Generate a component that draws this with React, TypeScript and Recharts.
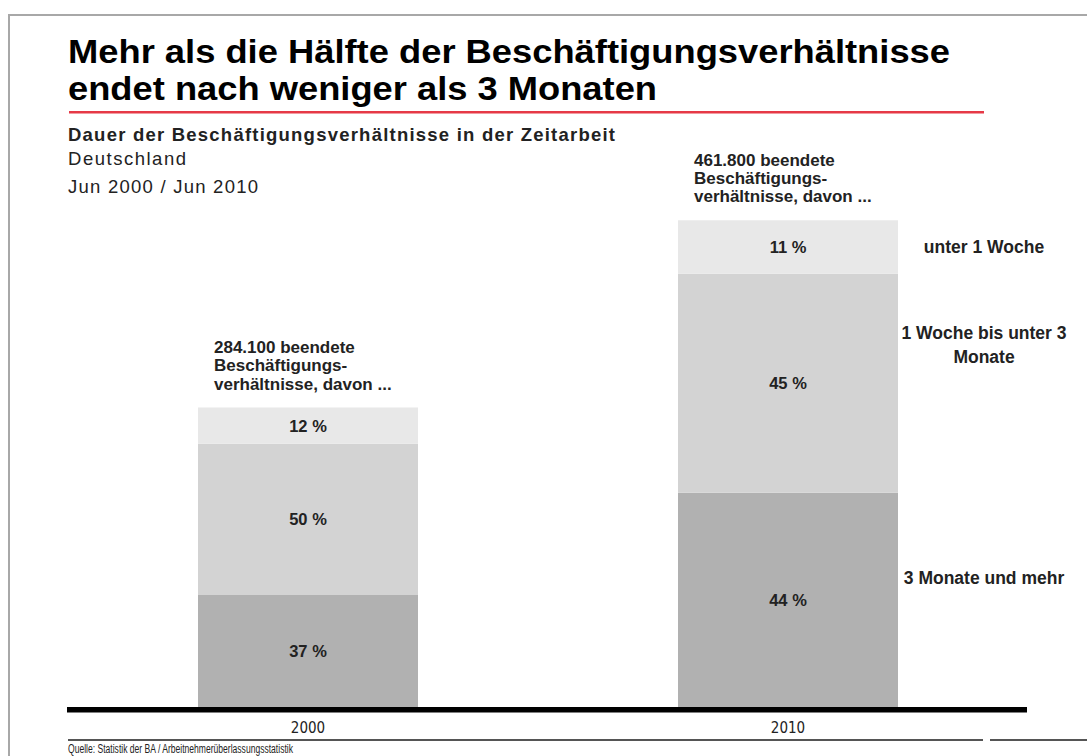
import React from 'react'
import { BarChart, Bar, XAxis, YAxis, LabelList } from 'recharts'

const years = ['2000', '2010']
const totals = [284100, 461800]
// Anteile in Prozent je Dauerklasse
const shareLong = [37, 44] // 3 Monate und mehr
const shareMid = [50, 45] // 1 Woche bis unter 3 Monate
const shareShort = [12, 11] // unter 1 Woche

const seriesLines: Record<string, string[]> = {
  long: ['3 Monate und mehr'],
  mid: ['1 Woche bis unter 3', 'Monate'],
  short: ['unter 1 Woche'],
}
// vertical nudge of the side labels relative to the segment middle
const sideShift: Record<string, number> = { long: -22, mid: -38, short: 0 }

const data = years.map((year, i) => {
  const sum = shareLong[i] + shareMid[i] + shareShort[i]
  return {
    year,
    total: totals[i],
    long: (totals[i] * shareLong[i]) / sum,
    mid: (totals[i] * shareMid[i]) / sum,
    short: (totals[i] * shareShort[i]) / sum,
    longPct: shareLong[i],
    midPct: shareMid[i],
    shortPct: shareShort[i],
  }
})

const SANS = "'Liberation Sans', Arial, sans-serif"
const NARROW = "'Liberation Sans Narrow', 'Arial Narrow', 'DejaVu Sans Condensed', sans-serif"

const fmt = (n: number) => String(n).replace(/\B(?=(\d{3})+(?!\d))/g, '.')

function segmentLabel(key: string) {
  return (props: any) => {
    const { x, y, width, height, value, index } = props
    const cx = x + width / 2
    const cy = y + height / 2
    const last = index === data.length - 1
    const lines = seriesLines[key]
    return (
      <g>
        <text
          x={cx}
          y={cy + 6}
          textAnchor="middle"
          fontFamily={SANS}
          fontWeight="bold"
          fontSize={16.5}
          fill="#222"
        >
          {value} %
        </text>
        {last &&
          lines.map((ln, k) => (
            <text
              key={k}
              x={984}
              y={cy + 6 + sideShift[key] - ((lines.length - 1) * 24) / 2 + k * 24}
              textAnchor="middle"
              fontFamily={SANS}
              fontWeight="bold"
              fontSize={17.5}
              fill="#222"
            >
              {ln}
            </text>
          ))}
      </g>
    )
  }
}

function totalLabel(props: any) {
  const { x, y, index } = props
  const lines = [`${fmt(data[index].total)} beendete`, 'Beschäftigungs-', 'verhältnisse, davon ...']
  return (
    <g>
      {lines.map((ln, k) => (
        <text
          key={k}
          x={x + 16}
          y={y - 18 - (lines.length - 1 - k) * 18.3}
          fontFamily={SANS}
          fontWeight="bold"
          fontSize={17}
          fill="#222"
        >
          {ln}
        </text>
      ))}
    </g>
  )
}

function YearTick(props: any) {
  const { x, y, payload } = props
  return (
    <text x={x} y={y + 18} textAnchor="middle" fontFamily={NARROW} fontSize={15} fill="#222">
      {payload.value}
    </text>
  )
}

export default function App() {
  return (
    <div
      style={{
        position: 'absolute',
        left: 0,
        top: 0,
        width: 1087,
        height: 756,
        background: '#fff',
        overflow: 'hidden',
      }}
    >
      <div
        style={{
          position: 'absolute',
          left: 8,
          top: 14,
          width: 1100,
          height: 760,
          borderTop: '2px solid #a8a8a8',
          borderLeft: '2px solid #a8a8a8',
        }}
      />
      <svg width={1087} height={756} style={{ position: 'absolute', left: 0, top: 0 }}>
        <text
          x={68}
          y={63}
          fontFamily={SANS}
          fontWeight="bold"
          fontSize={34}
          fill="#000"
          textLength={882}
          lengthAdjust="spacingAndGlyphs"
        >
          Mehr als die Hälfte der Beschäftigungsverhältnisse
        </text>
        <text
          x={68}
          y={100}
          fontFamily={SANS}
          fontWeight="bold"
          fontSize={34}
          fill="#000"
          textLength={589}
          lengthAdjust="spacingAndGlyphs"
        >
          endet nach weniger als 3 Monaten
        </text>
        <rect x={69} y={111} width={915} height={2.5} fill="#e63946" />
        <text
          x={68}
          y={141}
          fontFamily={SANS}
          fontWeight="bold"
          fontSize={18.5}
          fill="#222"
          textLength={547}
          lengthAdjust="spacing"
        >
          Dauer der Beschäftigungsverhältnisse in der Zeitarbeit
        </text>
        <text
          x={68}
          y={165}
          fontFamily={SANS}
          fontSize={18.5}
          fill="#222"
          textLength={118}
          lengthAdjust="spacing"
        >
          Deutschland
        </text>
        <text
          x={68}
          y={193}
          fontFamily={SANS}
          fontSize={18.5}
          fill="#222"
          textLength={190}
          lengthAdjust="spacing"
        >
          Jun 2000 / Jun 2010
        </text>
        <rect x={67} y={707} width={960} height={5.5} fill="#000" />
        <rect x={68} y={739} width={915} height={2} fill="#555" />
        <rect x={990} y={739} width={100} height={2} fill="#555" />
        <text
          x={68}
          y={753}
          fontFamily={SANS}
          fontSize={12}
          fill="#222"
          textLength={225}
          lengthAdjust="spacingAndGlyphs"
        >
          Quelle: Statistik der BA / Arbeitnehmerüberlassungsstatistik
        </text>
      </svg>
      <div style={{ position: 'absolute', left: 0, top: 0 }}>
        <BarChart
          width={1087}
          height={756}
          data={data}
          margin={{ top: 180, right: 59, left: 68, bottom: 19 }}
          barSize={220}
        >
          <XAxis
            dataKey="year"
            axisLine={false}
            tickLine={false}
            height={30}
            tick={<YearTick />}
          />
          <YAxis hide domain={[0, 500000]} />
          <Bar dataKey="long" stackId="a" fill="#b1b1b1" isAnimationActive={false}>
            <LabelList dataKey="longPct" content={segmentLabel('long')} />
          </Bar>
          <Bar dataKey="mid" stackId="a" fill="#d3d3d3" isAnimationActive={false}>
            <LabelList dataKey="midPct" content={segmentLabel('mid')} />
          </Bar>
          <Bar dataKey="short" stackId="a" fill="#e8e8e8" isAnimationActive={false}>
            <LabelList dataKey="shortPct" content={segmentLabel('short')} />
            <LabelList dataKey="total" content={totalLabel} />
          </Bar>
        </BarChart>
      </div>
    </div>
  )
}
